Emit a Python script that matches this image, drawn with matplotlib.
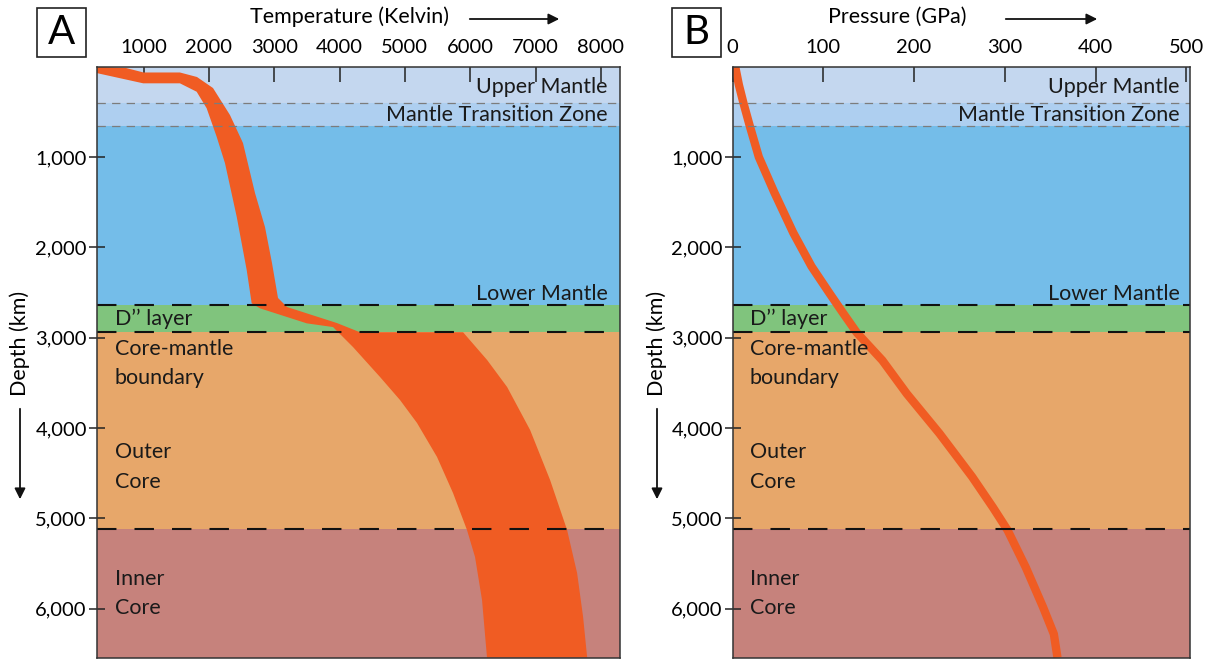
import matplotlib
matplotlib.use('Agg')
import matplotlib.pyplot as plt
from matplotlib.patches import Rectangle, FancyArrowPatch

plt.rcParams.update({
    'font.family': ['Lato', 'DejaVu Sans'],
    'font.size': 14.5,
    'lines.scale_dashes': False,
})

# layers of the Earth (depth in km)
LAYER_TOP = [0, 400, 660, 2640, 2940, 5120]
LAYER_BOTTOM = [400, 660, 2640, 2940, 5120, 6540]
LAYER_COLORS = ['#c4d7ef', '#aecff0', '#74bde9', '#80c47d', '#e7a76a', '#c6827c']
THIN_BOUNDS = [400, 660]
THICK_BOUNDS = [2640, 2940, 5120]

# temperature range (Kelvin), hot and cool edges of the band
HOT_DEPTH = [0, 14, 64, 64, 114, 236, 535, 845, 1398, 1775, 2173, 2560, 2660,
             2838, 2940, 2940, 3247, 3546, 4022, 4576, 5129, 5605, 6092, 6540]
HOT_TEMP = [280, 730, 1000, 1557, 1818, 2063, 2323, 2522, 2706, 2859, 2966, 3058,
            3196, 3961, 4314, 5891, 6259, 6565, 6917, 7223, 7483, 7636, 7728, 7790]
COOL_DEPTH = [70, 184, 184, 277, 460, 775, 1069, 1661, 2251, 2619, 2675, 2841,
              2882, 3103, 3435, 3690, 3944, 4320, 4719, 5129, 5428, 5904, 6540]
COOL_TEMP = [280, 995, 1557, 1813, 1966, 2119, 2247, 2426, 2579, 2655, 2783, 3498,
             3900, 4206, 4620, 4926, 5186, 5492, 5737, 5951, 6074, 6181, 6257]

# pressure (GPa) with depth
PRESS_DEPTH = [0, 200, 400, 655, 1000, 1390, 1840, 2210, 2510, 2730, 2945, 3250,
               3620, 4060, 4540, 4880, 5130, 5540, 5980, 6280, 6540]
PRESSURE = [3, 7, 12, 19, 29, 46, 67, 87, 107, 122, 137, 165, 192, 228, 264,
            287, 303, 323, 342, 354, 358]

TEMP_TICKS = [1000, 2000, 3000, 4000, 5000, 6000, 7000, 8000]
PRESS_TICKS = [0, 100, 200, 300, 400, 500]
DEPTH_TICKS = [1000, 2000, 3000, 4000, 5000, 6000]

BAND_COLOR = '#f05c23'

W, H = 1217, 659
fig = plt.figure(figsize=(W / 100, H / 100), dpi=100)


def fx(px):
    return px / W


def fy(py):
    return 1 - py / H


def draw_layers(ax, label_x):
    for top, bot, c in zip(LAYER_TOP, LAYER_BOTTOM, LAYER_COLORS):
        ax.axhspan(top, bot, color=c, lw=0, zorder=0)
    for d in THIN_BOUNDS:
        ax.axhline(d, color='#7c7c7c', lw=0.9, dashes=(6, 4.5), zorder=3)
    for d in THICK_BOUNDS:
        ax.axhline(d, color='#111111', lw=1.5, dashes=(14, 13), zorder=3)

    tr = ax.get_yaxis_transform()
    kw = dict(transform=tr, fontsize=15.5, color='#1a1a1a', va='center', zorder=4)
    ax.text(0.978, 225, 'Upper Mantle', ha='right', **kw)
    ax.text(0.978, 530, 'Mantle Transition Zone', ha='right', **kw)
    ax.text(0.978, 2515, 'Lower Mantle', ha='right', **kw)
    ax.text(label_x, 2790, 'D\u2019\u2019 layer', ha='left', **kw)
    ax.text(label_x, 3285, 'Core-mantle\nboundary', ha='left', linespacing=1.6, **kw)
    ax.text(label_x, 4430, 'Outer\nCore', ha='left', linespacing=1.6, **kw)
    ax.text(label_x, 5830, 'Inner\nCore', ha='left', linespacing=1.6, **kw)


def style_axes(ax, xticks, xlim):
    ax.set_xlim(*xlim)
    ax.set_ylim(6540, 0)
    ax.xaxis.tick_top()
    ax.set_xticks(xticks)
    ax.set_xticklabels([str(t) for t in xticks])
    ax.set_yticks(DEPTH_TICKS)
    ax.set_yticklabels([f'{t:,}' for t in DEPTH_TICKS])
    ax.tick_params(axis='x', direction='in', length=11, width=1.1, pad=8,
                   labelsize=14.5, color='#222222')
    ax.tick_params(axis='y', direction='inout', length=12, width=1.1, pad=1,
                   labelsize=14.5, color='#222222')
    for s in ax.spines.values():
        s.set_linewidth(1.1)
        s.set_color('#333333')
        s.set_zorder(5)


def panel_letter(letter, x0, x1):
    fig.patches.append(Rectangle((fx(x0), fy(57)), fx(x1 - x0), (57 - 8) / H,
                                 transform=fig.transFigure, fill=False,
                                 edgecolor='#222222', lw=1.2))
    fig.text(fx((x0 + x1) / 2), fy(33), letter, fontsize=29,
             ha='center', va='center')


def arrow(x0, y0, x1, y1):
    fig.add_artist(FancyArrowPatch(
        (fx(x0), fy(y0)), (fx(x1), fy(y1)), transform=fig.transFigure,
        arrowstyle='-|>', mutation_scale=16, lw=1.3, color='#111111'))


# Panel A: temperature
axA = fig.add_axes([fx(96.5), fy(657.5), fx(619.5 - 96.5), (657.5 - 66.7) / H])
draw_layers(axA, 0.035)
band_t = HOT_TEMP + COOL_TEMP[::-1]
band_d = HOT_DEPTH + COOL_DEPTH[::-1]
axA.fill(band_t, band_d, color=BAND_COLOR, lw=0, zorder=2)
style_axes(axA, TEMP_TICKS, (280, 8285))

# Panel B: pressure
axB = fig.add_axes([fx(732.5), fy(657.5), fx(1190 - 732.5), (657.5 - 66.7) / H])
draw_layers(axB, 0.038)
axB.plot(PRESSURE, PRESS_DEPTH, color=BAND_COLOR, lw=6, zorder=2,
         solid_capstyle='butt', solid_joinstyle='round')
style_axes(axB, PRESS_TICKS, (0, 504))

# titles and arrows
fig.text(fx(350), fy(17), 'Temperature (Kelvin)', fontsize=15.5, ha='center', va='center')
arrow(467, 19, 562, 19)
fig.text(fx(897), fy(17), 'Pressure (GPa)', fontsize=15.5, ha='center', va='center')
arrow(1003, 19, 1100, 19)

for xl in (20, 657):
    fig.text(fx(xl), fy(343), 'Depth (km)', fontsize=15.5, rotation=90,
             ha='center', va='center')
    arrow(xl, 406, xl, 502)

panel_letter('A', 37, 86)
panel_letter('B', 672, 721)

fig.savefig('out.png', dpi=100)
